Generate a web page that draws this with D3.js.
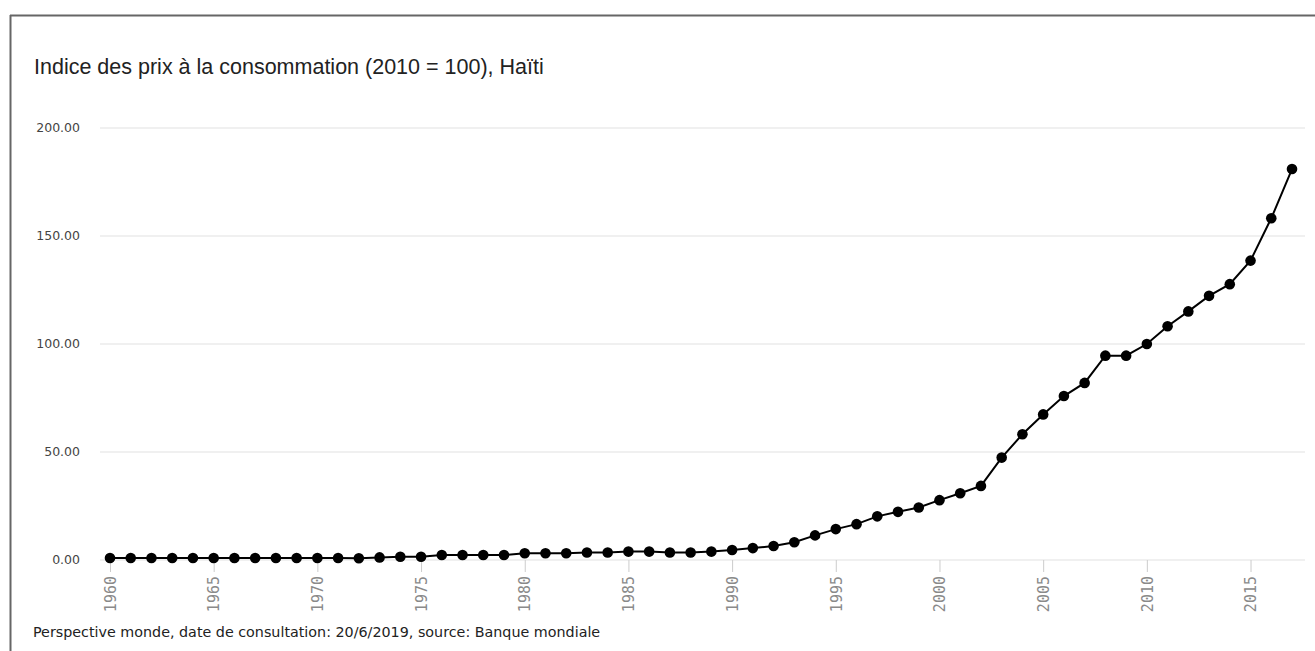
<!DOCTYPE html>
<html>
<head>
<meta charset="utf-8">
<script src="https://cdn.jsdelivr.net/npm/d3@7"></script>
<style>
  html, body { margin: 0; padding: 0; background: #fff; }
  svg { display: block; }
</style>
</head>
<body>
<svg id="chart" width="1315" height="651"></svg>
<script>
const years = d3.range(1960, 2018);
const values = [
  0.9, 0.9, 0.9, 0.9, 0.9, 0.9, 0.9, 0.9, 0.9, 0.9,
  0.9, 0.9, 0.8, 1.2, 1.5, 1.5, 2.3, 2.3, 2.3, 2.3,
  3.1, 3.1, 3.1, 3.5, 3.5, 3.9, 3.9, 3.5, 3.5, 3.9,
  4.6, 5.5, 6.5, 8.2, 11.4, 14.3, 16.6, 20.2, 22.3, 24.3,
  27.7, 30.9, 34.3, 47.4, 58.2, 67.4, 75.9, 82.0, 94.6, 94.6,
  100.0, 108.2, 115.1, 122.3, 127.7, 138.6, 158.2, 181.0
];
const yTicks = [0, 50, 100, 150, 200];
const xTickYears = [1960, 1965, 1970, 1975, 1980, 1985, 1990, 1995, 2000, 2005, 2010, 2015];
const titleText = "Indice des prix à la consommation (2010 = 100), Haïti";
const footerText = "Perspective monde, date de consultation: 20/6/2019, source: Banque mondiale";

const data = years.map((y, i) => ({ year: y, value: values[i] }));

const svg = d3.select("#chart");

// frame
svg.append("line").attr("x1", 10).attr("x2", 1315).attr("y1", 15.5).attr("y2", 15.5)
  .attr("stroke", "#666").attr("stroke-width", 2);
svg.append("line").attr("x1", 10.5).attr("x2", 10.5).attr("y1", 15).attr("y2", 651)
  .attr("stroke", "#666").attr("stroke-width", 2);

const x = d3.scalePoint().domain(years).range([110, 1292]);
const y = d3.scaleLinear().domain([0, 200]).range([560, 128]);

const gridLeft = 100, gridRight = 1305;

// gridlines
svg.append("g").selectAll("line").data(yTicks).join("line")
  .attr("x1", gridLeft).attr("x2", gridRight)
  .attr("y1", d => y(d)).attr("y2", d => y(d))
  .attr("stroke", "#ebebeb").attr("stroke-width", 1.5);

// y labels
svg.append("g").selectAll("text").data(yTicks).join("text")
  .attr("x", 80).attr("y", d => y(d)).attr("dy", "0.35em")
  .attr("text-anchor", "end")
  .attr("font-family", "DejaVu Sans, Verdana, sans-serif")
  .attr("font-size", 12.5).attr("fill", "#444")
  .text(d => d3.format(".2f")(d));

// x axis
const xAxis = d3.axisBottom(x).tickValues(xTickYears).tickSize(12).tickSizeOuter(0).tickPadding(4);
const gx = svg.append("g").attr("transform", `translate(0,${y(0)})`).call(xAxis);
gx.select(".domain").remove();
gx.selectAll(".tick line").attr("stroke", "#ccc");
gx.selectAll(".tick text")
  .attr("font-family", "DejaVu Sans Mono, monospace")
  .attr("font-size", 15).attr("fill", "#8a8a8a")
  .attr("transform", "rotate(-90)")
  .attr("text-anchor", "end")
  .attr("x", -16).attr("y", 0).attr("dy", "0.35em");

// line
const line = d3.line().x(d => x(d.year)).y(d => y(d.value));
svg.append("path").datum(data)
  .attr("d", line).attr("fill", "none").attr("stroke", "#000").attr("stroke-width", 2);

svg.append("g").selectAll("circle").data(data).join("circle")
  .attr("cx", d => x(d.year)).attr("cy", d => y(d.value)).attr("r", 5.3)
  .attr("fill", "#000");

// title
svg.append("text").attr("x", 34).attr("y", 74)
  .attr("font-family", "Liberation Sans, Arial, sans-serif")
  .attr("font-size", 21.5).attr("fill", "#222")
  .text(titleText);

// footer
svg.append("text").attr("x", 33).attr("y", 637)
  .attr("font-family", "DejaVu Sans, Verdana, sans-serif")
  .attr("font-size", 14.3).attr("fill", "#222")
  .text(footerText);
</script>
</body>
</html>
